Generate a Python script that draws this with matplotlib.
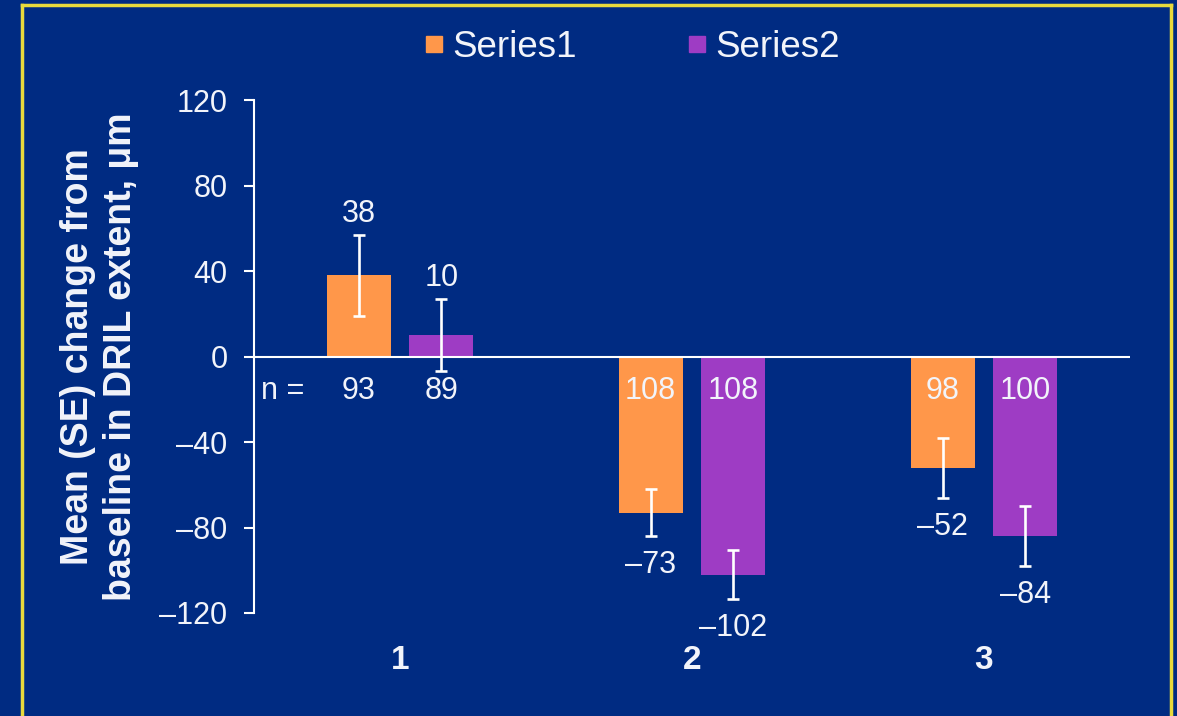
import matplotlib.pyplot as plt
from matplotlib.lines import Line2D
import numpy as np

plt.rcParams['font.family'] = ['Liberation Sans', 'DejaVu Sans']

# data
categories = ['1', '2', '3']
series_names = ['Series1', 'Series2']
series1 = [38, -73, -52]
series2 = [10, -102, -84]
series1_se = [19, 11, 14]
series2_se = [17, 11.5, 14]
series1_n = [93, 108, 98]
series2_n = [89, 108, 100]
yticks = [-120, -80, -40, 0, 40, 80, 120]

bg = '#002B82'
orange = '#FF974A'
purple = '#9E3CC4'
txt = '#F2F4FA'
fs = 22

fig = plt.figure(figsize=(11.77, 7.16), dpi=100, facecolor=bg)
ax = fig.add_axes([254/1177, 1-613/716, (1130-254)/1177, (613-100)/716])
ax.set_facecolor(bg)

x = np.arange(len(categories))
width = 0.219
off = 0.142

ax.bar(x - off, series1, width, color=orange, label=series_names[0], zorder=2)
ax.bar(x + off, series2, width, color=purple, label=series_names[1], zorder=2)

for xs, vals, ses in [(x - off, series1, series1_se), (x + off, series2, series2_se)]:
    ax.errorbar(xs, vals, yerr=ses, fmt='none', ecolor='white', elinewidth=1.9,
                capsize=4.5, capthick=1.9, zorder=4)
    for xi, v, s in zip(xs, vals, ses):
        if v >= 0:
            ax.annotate(str(v), (xi, v + s), xytext=(0, 15), textcoords='offset points',
                        ha='center', va='center', color=txt, fontsize=fs)
        else:
            ax.annotate('\u2013' + str(abs(v)), (xi, v - s), xytext=(0, -21),
                        textcoords='offset points', ha='center', va='center',
                        color=txt, fontsize=fs)

# n per bar, sitting just under the zero line
for xs, ns in [(x - off, series1_n), (x + off, series2_n)]:
    for xi, n in zip(xs, ns):
        ax.text(xi, -16, str(n), ha='center', va='center', color=txt, fontsize=fs, zorder=5)
ax.text(-0.476, -16, 'n =', ha='left', va='center', color=txt, fontsize=fs)

ax.axhline(0, color='white', lw=1.5, zorder=3)

ax.set_xlim(-0.5, 2.5)
ax.set_ylim(-120, 120)
ax.set_yticks(yticks)
ax.set_yticklabels([('\u2013' + str(abs(t))) if t < 0 else str(t) for t in yticks])
ax.set_xticks(x)
ax.set_xticklabels(categories, fontweight='bold')

for s in ['top', 'right', 'bottom']:
    ax.spines[s].set_visible(False)
ax.spines['left'].set_color('white')
ax.spines['left'].set_linewidth(1.5)
ax.tick_params(axis='y', colors='white', labelcolor=txt, labelsize=fs,
               length=7, width=1.5, pad=12)
ax.tick_params(axis='x', length=0, labelcolor=txt, labelsize=24, pad=23)

ax.set_ylabel('Mean (SE) change from\nbaseline in DRIL extent, \u03bcm', fontsize=27,
              fontweight='bold', color=txt, linespacing=1.22, labelpad=15)

leg = fig.legend(handles=[Line2D([], [], marker='s', ls='none', color=orange, markersize=11.5),
                          Line2D([], [], marker='s', ls='none', color=purple, markersize=11.5)],
                 labels=series_names, loc='center', bbox_to_anchor=(0.535, 0.934),
                 ncol=2, frameon=False, fontsize=26.5, handletextpad=0.1,
                 columnspacing=2.85, handlelength=0.8, labelcolor=txt)

# yellow frame around the slide content
fy = '#E8DA3C'
fig.add_artist(Line2D([22/1177, 22/1177], [0, 1-5/716], color=fy, lw=2.5, transform=fig.transFigure))
fig.add_artist(Line2D([1171/1177, 1171/1177], [0, 1-5/716], color=fy, lw=2.5, transform=fig.transFigure))
fig.add_artist(Line2D([22/1177, 1171/1177], [1-5/716, 1-5/716], color=fy, lw=2.5, transform=fig.transFigure))

fig.savefig('out.png', dpi=100, facecolor=bg)
